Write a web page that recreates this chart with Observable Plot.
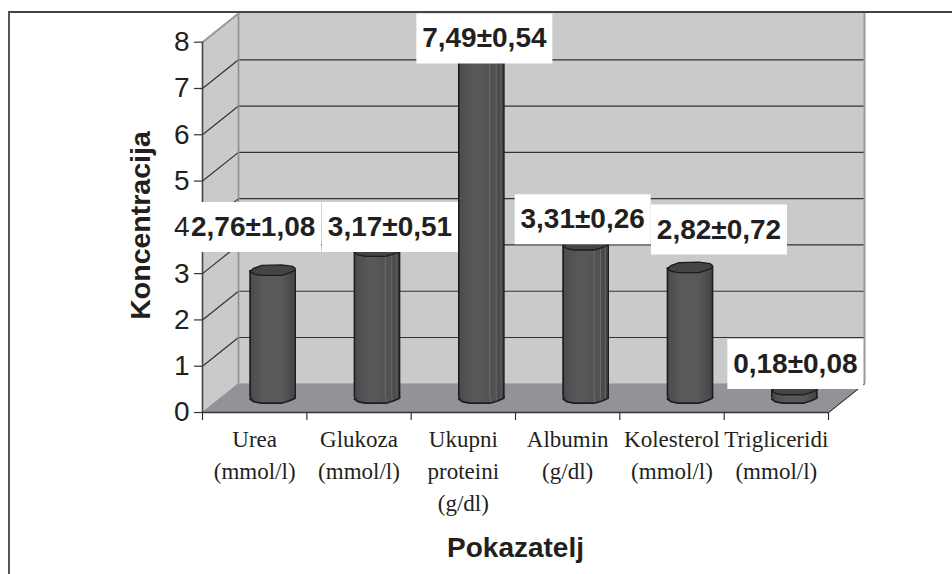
<!DOCTYPE html>
<html>
<head>
<meta charset="utf-8">
<script src="https://cdn.jsdelivr.net/npm/d3@7"></script>
<script src="https://cdn.jsdelivr.net/npm/@observablehq/plot@0.6"></script>
<style>
html,body{margin:0;padding:0;background:#fff;width:952px;height:574px;overflow:hidden}
#frame{position:absolute;left:8px;top:11px;right:0;bottom:0;border-left:2px solid #555;border-top:2px solid #444;pointer-events:none}
#chart{position:absolute;left:0;top:0}
svg{display:block}
</style>
</head>
<body>
<div id="chart"></div>
<div id="frame"></div>
<script>
const categories = ["Urea\n(mmol/l)", "Glukoza\n(mmol/l)", "Ukupni\nproteini\n(g/dl)", "Albumin\n(g/dl)", "Kolesterol\n(mmol/l)", "Trigliceridi\n(mmol/l)"];
const means = [2.76, 3.17, 7.49, 3.31, 2.82, 0.18];
const errors = [1.08, 0.51, 0.54, 0.26, 0.72, 0.08];
const yTicks = [0, 1, 2, 3, 4, 5, 6, 7, 8];
const xTicks = [0, 1, 2, 3, 4, 5, 6];
const yTitle = "Koncentracija";
const xTitle = "Pokazatelj";

// Oblique 3-D depth, expressed in data units
const depthX = 0.345, depthY = 0.62, halfW = 0.216;
const fmt = v => v.toFixed(2).replace(".", ",");
const bars = means.map((v, i) => ({
  cat: categories[i], v, label: `${fmt(v)}±${fmt(errors[i])}`,
  c: i + 0.5 + depthX / 2, base: depthY / 2, top: v + depthY / 2,
  ribbed: i === 1 || i === 2 || i === 3
}));
const labelShift = [[-19.5, -43.5], [13, -24.5], [3, -13], [-3, -25.7], [29, -38], [1, -25.7]];

const capPts = [[-22.5,1],[-19,-2],[-11,-5],[9,-5.5],[20,-4],[22.5,-2],[22.5,0],[17,2.5],[9,5],[-12,5],[-19,3.5]];
const capSymbol = {draw(ctx){capPts.forEach((p,i)=> i?ctx.lineTo(p[0],p[1]):ctx.moveTo(p[0],p[1]));ctx.closePath();}};
const boxSymbol = {draw(ctx){ctx.rect(-68,-25,136,50);}};

const gridLevels = yTicks.filter(v => v > 0 && v < 8);
const gridData = gridLevels.flatMap(v => [
  {z:v,x:0,y:v},{z:v,x:depthX,y:v+depthY},{z:v,x:6+depthX,y:v+depthY}
]);
const leftWall = [{x:0,y1:0,y2:8},{x:depthX,y1:depthY,y2:8+depthY}];
const floor = [{y:0,x1:0,x2:6},{y:depthY,x1:depthX,x2:6+depthX}];

function defs(){
  const d = d3.create("svg:defs");
  const mk = (id, stops) => {
    const g = d.append("linearGradient").attr("id", id).attr("x1",0).attr("x2",1).attr("y1",0).attr("y2",0);
    stops.forEach(([o,c]) => g.append("stop").attr("offset",o).attr("stop-color",c));
  };
  mk("cyl", [[0,"#4a4b4d"],[.3,"#58595b"],[.7,"#58595b"],[1,"#434446"]]);
  mk("rib", [[0,"#4a4b4d"],[.35,"#58595b"],[.68,"#525355"],[.7,"#6b6c6e"],[.72,"#505153"],[.82,"#505153"],[.84,"#6a6b6d"],[.86,"#4a4b4d"],[.93,"#4a4b4d"],[.95,"#636466"],[.97,"#434446"],[1,"#3d3e40"]]);
  return d.node();
}

const ink = "#231f20";
const sans = "'Liberation Sans', Arial, sans-serif";
const serif = "'Liberation Serif', 'Times New Roman', serif";

const plot = Plot.plot({
  width: 952, height: 574,
  marginLeft: 202, marginRight: 88, marginTop: 13, marginBottom: 162,
  x: {domain: [0, 6 + depthX], axis: null},
  y: {domain: [0, 8 + depthY], axis: null},
  style: {background: "transparent", fontFamily: sans},
  marks: [
    defs,
    // walls and floor
    Plot.rect([{}], {x1: depthX, x2: 6 + depthX, y1: depthY, y2: 8 + depthY, fill: "#c9cacc"}),
    Plot.areaY(leftWall, {x: "x", y1: "y1", y2: "y2", fill: "#c9cacc", curve: "linear"}),
    Plot.areaX(floor, {y: "y", x1: "x1", x2: "x2", fill: "#929396", curve: "linear"}),
    // gridlines
    Plot.line(gridData, {x: "x", y: "y", z: "z", stroke: "#333", strokeWidth: 1.2, curve: "linear"}),
    // wall edges
    Plot.ruleX([depthX], {y1: depthY, y2: 8 + depthY, stroke: "#8e8f91", strokeWidth: 1.6}),
    Plot.ruleX([6 + depthX], {y1: depthY, y2: 8 + depthY, stroke: "#98999b", strokeWidth: 2}),
    Plot.line([{x:0,y:8},{x:depthX,y:8+depthY}], {x:"x", y:"y", stroke:"#98999b", strokeWidth:2, curve:"linear"}),
    Plot.line([{x:6,y:0},{x:6+depthX,y:depthY}], {x:"x", y:"y", stroke:"#333", strokeWidth:1.2, curve:"linear"}),
    // axes
    Plot.ruleX([0], {y1: 0, y2: 8, stroke: "#444", strokeWidth: 1.6}),
    Plot.ruleY([0], {x1: 0, x2: 6, stroke: "#333", strokeWidth: 1.4}),
    Plot.axisY({ticks: yTicks, tickSize: 8, tickFormat: () => "", color: "#333", strokeWidth: 1.2}),
    Plot.axisX({ticks: xTicks, tickSize: 8, tickFormat: () => "", color: "#333", strokeWidth: 1.2, anchor: "bottom"}),
    // cylinders
    Plot.dot(bars, {x: "c", y: "base", r: 5, symbol: capSymbol, fill: d => d.ribbed ? "url(#rib)" : "url(#cyl)", stroke: "#1d1d1f", strokeWidth: 1.6}),
    Plot.rect(bars, {x1: d => d.c - halfW, x2: d => d.c + halfW, y1: "base", y2: "top", fill: d => d.ribbed ? "url(#rib)" : "url(#cyl)"}),
    Plot.ruleX(bars, {x: d => d.c - halfW, y1: "base", y2: "top", stroke: "#1d1d1f", strokeWidth: 1.6}),
    Plot.ruleX(bars, {x: d => d.c + halfW, y1: "base", y2: "top", stroke: "#1d1d1f", strokeWidth: 1.6}),
    Plot.dot(bars, {x: "c", y: "top", r: 5, symbol: capSymbol, fill: "#434446", stroke: "#1d1d1f", strokeWidth: 1.4}),
    // value labels
    ...bars.flatMap((d, i) => [
      Plot.dot([d], {x: "c", y: "top", r: 5, symbol: boxSymbol, fill: "#fff", stroke: "none", dx: labelShift[i][0], dy: labelShift[i][1]}),
      Plot.text([d], {x: "c", y: "top", text: "label", fontSize: 28, fontWeight: "bold", fill: ink, dx: labelShift[i][0], dy: labelShift[i][1]})
    ]),
    // tick labels and titles
    Plot.axisY({ticks: yTicks, tickSize: 0, tickPadding: 13, fontSize: 28, color: ink, fontFamily: sans}),
    Plot.text(bars, {x: (d, i) => i + 0.5, y: 0, text: "cat", lineAnchor: "top", dy: 12, fontSize: 23, lineHeight: 1.39, fontFamily: serif, fill: ink}),
    Plot.text([xTitle], {x: 3, y: 0, dy: 136, text: d => d, fontSize: 28, fontWeight: "bold", fill: ink}),
    Plot.text([yTitle], {x: 0, y: 4.04, dx: -62, rotate: -90, text: d => d, fontSize: 28.5, fontWeight: "bold", fill: ink})
  ]
});
document.getElementById("chart").append(plot);
</script>
</body>
</html>
